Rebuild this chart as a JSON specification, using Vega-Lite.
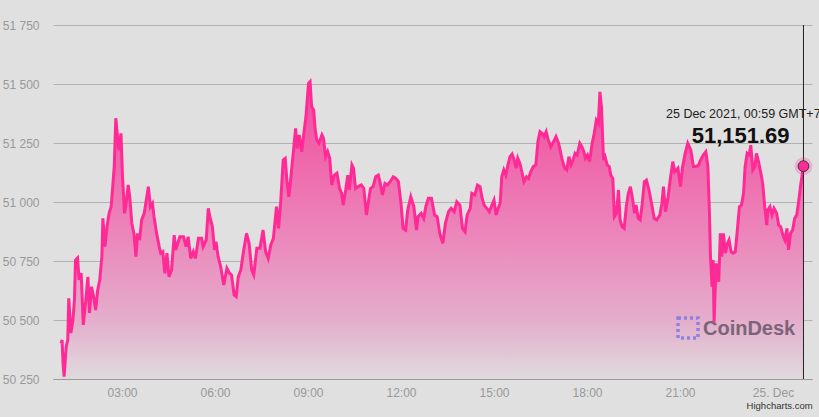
{
  "$schema": "https://vega.github.io/schema/vega-lite/v6.json",
  "autosize": {"type": "none"},
  "width": 759,
  "height": 354,
  "padding": {"left": 53, "top": 25, "right": 7, "bottom": 38},
  "background": "#e0e0e0",
  "title": {"text": "Highcharts.com", "orient": "bottom", "anchor": "end", "fontSize": 9.5, "fontWeight": "normal", "color": "#333333", "font": "Liberation Sans", "offset": 3, "dx": -8},
  "config": {"view": {"stroke": null}, "font": "Liberation Sans"},
  "data": {"values": [
    {"time":"2021-12-24T01:02","price":50401},{"time":"2021-12-24T01:04","price":50415},{"time":"2021-12-24T01:06","price":50316},{"time":"2021-12-24T01:08","price":50260},
    {"time":"2021-12-24T01:12","price":50387},{"time":"2021-12-24T01:15","price":50415},{"time":"2021-12-24T01:17","price":50592},{"time":"2021-12-24T01:21","price":50445},
    {"time":"2021-12-24T01:25","price":50500},{"time":"2021-12-24T01:28","price":50585},{"time":"2021-12-24T01:30","price":50754},{"time":"2021-12-24T01:34","price":50763},
    {"time":"2021-12-24T01:37","price":50670},{"time":"2021-12-24T01:41","price":50699},{"time":"2021-12-24T01:45","price":50479},{"time":"2021-12-24T01:50","price":50585},
    {"time":"2021-12-24T01:54","price":50683},{"time":"2021-12-24T01:57","price":50530},{"time":"2021-12-24T02:01","price":50641},{"time":"2021-12-24T02:05","price":50599},
    {"time":"2021-12-24T02:09","price":50542},{"time":"2021-12-24T02:13","price":50627},{"time":"2021-12-24T02:17","price":50670},{"time":"2021-12-24T02:21","price":50768},
    {"time":"2021-12-24T02:23","price":50931},{"time":"2021-12-24T02:27","price":50811},{"time":"2021-12-24T02:31","price":50895},{"time":"2021-12-24T02:35","price":50952},
    {"time":"2021-12-24T02:39","price":50980},{"time":"2021-12-24T02:41","price":51037},{"time":"2021-12-24T02:45","price":51150},{"time":"2021-12-24T02:48","price":51355},
    {"time":"2021-12-24T02:52","price":51263},{"time":"2021-12-24T02:54","price":51220},{"time":"2021-12-24T02:58","price":51291},{"time":"2021-12-24T03:01","price":51107},
    {"time":"2021-12-24T03:05","price":50952},{"time":"2021-12-24T03:08","price":50994},{"time":"2021-12-24T03:12","price":51072},{"time":"2021-12-24T03:15","price":51022},
    {"time":"2021-12-24T03:19","price":50910},{"time":"2021-12-24T03:23","price":50867},{"time":"2021-12-24T03:27","price":50768},{"time":"2021-12-24T03:30","price":50867},
    {"time":"2021-12-24T03:34","price":50839},{"time":"2021-12-24T03:38","price":50924},{"time":"2021-12-24T03:43","price":50952},{"time":"2021-12-24T03:47","price":51008},
    {"time":"2021-12-24T03:51","price":51065},{"time":"2021-12-24T03:55","price":50980},{"time":"2021-12-24T03:59","price":50994},{"time":"2021-12-24T04:02","price":50938},
    {"time":"2021-12-24T04:07","price":50867},{"time":"2021-12-24T04:12","price":50811},{"time":"2021-12-24T04:15","price":50783},{"time":"2021-12-24T04:19","price":50789},
    {"time":"2021-12-24T04:23","price":50698},{"time":"2021-12-24T04:27","price":50783},{"time":"2021-12-24T04:31","price":50683},{"time":"2021-12-24T04:36","price":50712},
    {"time":"2021-12-24T04:41","price":50860},{"time":"2021-12-24T04:44","price":50797},{"time":"2021-12-24T04:48","price":50825},{"time":"2021-12-24T04:52","price":50853},
    {"time":"2021-12-24T04:59","price":50853},{"time":"2021-12-24T05:04","price":50811},{"time":"2021-12-24T05:08","price":50853},{"time":"2021-12-24T05:13","price":50761},
    {"time":"2021-12-24T05:18","price":50789},{"time":"2021-12-24T05:22","price":50761},{"time":"2021-12-24T05:28","price":50846},{"time":"2021-12-24T05:34","price":50846},
    {"time":"2021-12-24T05:37","price":50811},{"time":"2021-12-24T05:43","price":50839},{"time":"2021-12-24T05:47","price":50973},{"time":"2021-12-24T05:50","price":50938},
    {"time":"2021-12-24T05:55","price":50895},{"time":"2021-12-24T05:59","price":50797},{"time":"2021-12-24T06:02","price":50832},{"time":"2021-12-24T06:06","price":50768},
    {"time":"2021-12-24T06:11","price":50726},{"time":"2021-12-24T06:17","price":50648},{"time":"2021-12-24T06:23","price":50719},{"time":"2021-12-24T06:28","price":50698},
    {"time":"2021-12-24T06:32","price":50691},{"time":"2021-12-24T06:37","price":50606},{"time":"2021-12-24T06:41","price":50599},{"time":"2021-12-24T06:45","price":50683},
    {"time":"2021-12-24T06:50","price":50712},{"time":"2021-12-24T06:55","price":50789},{"time":"2021-12-24T07:01","price":50867},{"time":"2021-12-24T07:06","price":50825},
    {"time":"2021-12-24T07:11","price":50712},{"time":"2021-12-24T07:15","price":50691},{"time":"2021-12-24T07:21","price":50804},{"time":"2021-12-24T07:27","price":50804},
    {"time":"2021-12-24T07:33","price":50881},{"time":"2021-12-24T07:38","price":50789},{"time":"2021-12-24T07:43","price":50761},{"time":"2021-12-24T07:48","price":50818},
    {"time":"2021-12-24T07:53","price":50846},{"time":"2021-12-24T07:59","price":50980},{"time":"2021-12-24T08:03","price":50888},{"time":"2021-12-24T08:07","price":50994},
    {"time":"2021-12-24T08:12","price":51178},{"time":"2021-12-24T08:16","price":51185},{"time":"2021-12-24T08:19","price":51093},{"time":"2021-12-24T08:23","price":51022},
    {"time":"2021-12-24T08:27","price":51107},{"time":"2021-12-24T08:32","price":51220},{"time":"2021-12-24T08:36","price":51312},{"time":"2021-12-24T08:39","price":51228},
    {"time":"2021-12-24T08:43","price":51284},{"time":"2021-12-24T08:48","price":51213},{"time":"2021-12-24T08:52","price":51291},{"time":"2021-12-24T08:56","price":51361},
    {"time":"2021-12-24T09:01","price":51503},{"time":"2021-12-24T09:04","price":51510},{"time":"2021-12-24T09:07","price":51404},{"time":"2021-12-24T09:11","price":51390},
    {"time":"2021-12-24T09:14","price":51305},{"time":"2021-12-24T09:17","price":51263},{"time":"2021-12-24T09:21","price":51249},{"time":"2021-12-24T09:27","price":51284},
    {"time":"2021-12-24T09:30","price":51270},{"time":"2021-12-24T09:34","price":51192},{"time":"2021-12-24T09:38","price":51213},{"time":"2021-12-24T09:42","price":51185},
    {"time":"2021-12-24T09:46","price":51072},{"time":"2021-12-24T09:51","price":51114},{"time":"2021-12-24T09:56","price":51122},{"time":"2021-12-24T10:01","price":51058},
    {"time":"2021-12-24T10:05","price":51037},{"time":"2021-12-24T10:08","price":50987},{"time":"2021-12-24T10:13","price":51051},{"time":"2021-12-24T10:17","price":51114},
    {"time":"2021-12-24T10:20","price":51051},{"time":"2021-12-24T10:25","price":51157},{"time":"2021-12-24T10:28","price":51143},{"time":"2021-12-24T10:32","price":51058},
    {"time":"2021-12-24T10:37","price":51065},{"time":"2021-12-24T10:43","price":51072},{"time":"2021-12-24T10:48","price":51058},{"time":"2021-12-24T10:53","price":50945},
    {"time":"2021-12-24T10:57","price":51001},{"time":"2021-12-24T11:01","price":51058},{"time":"2021-12-24T11:06","price":51065},{"time":"2021-12-24T11:11","price":51107},
    {"time":"2021-12-24T11:16","price":51114},{"time":"2021-12-24T11:20","price":51079},{"time":"2021-12-24T11:24","price":51030},{"time":"2021-12-24T11:29","price":51079},
    {"time":"2021-12-24T11:34","price":51072},{"time":"2021-12-24T11:39","price":51086},{"time":"2021-12-24T11:45","price":51107},{"time":"2021-12-24T11:50","price":51100},
    {"time":"2021-12-24T11:55","price":51086},{"time":"2021-12-24T12:00","price":50994},{"time":"2021-12-24T12:04","price":50888},{"time":"2021-12-24T12:09","price":50881},
    {"time":"2021-12-24T12:13","price":50966},{"time":"2021-12-24T12:19","price":51022},{"time":"2021-12-24T12:25","price":50980},{"time":"2021-12-24T12:30","price":50881},
    {"time":"2021-12-24T12:33","price":50938},{"time":"2021-12-24T12:39","price":50952},{"time":"2021-12-24T12:44","price":50931},{"time":"2021-12-24T12:48","price":50980},
    {"time":"2021-12-24T12:53","price":51016},{"time":"2021-12-24T12:59","price":51016},{"time":"2021-12-24T13:05","price":50945},{"time":"2021-12-24T13:10","price":50938},
    {"time":"2021-12-24T13:15","price":50867},{"time":"2021-12-24T13:21","price":50825},{"time":"2021-12-24T13:26","price":50910},{"time":"2021-12-24T13:32","price":50959},
    {"time":"2021-12-24T13:37","price":50973},{"time":"2021-12-24T13:43","price":50959},{"time":"2021-12-24T13:48","price":51001},{"time":"2021-12-24T13:54","price":50987},
    {"time":"2021-12-24T13:59","price":50888},{"time":"2021-12-24T14:04","price":50874},{"time":"2021-12-24T14:08","price":50945},{"time":"2021-12-24T14:14","price":50973},
    {"time":"2021-12-24T14:17","price":51037},{"time":"2021-12-24T14:23","price":51030},{"time":"2021-12-24T14:28","price":51072},{"time":"2021-12-24T14:33","price":51065},
    {"time":"2021-12-24T14:37","price":51016},{"time":"2021-12-24T14:41","price":50987},{"time":"2021-12-24T14:46","price":50973},{"time":"2021-12-24T14:51","price":50959},
    {"time":"2021-12-24T14:56","price":50987},{"time":"2021-12-24T15:00","price":51008},{"time":"2021-12-24T15:04","price":50945},{"time":"2021-12-24T15:08","price":50973},
    {"time":"2021-12-24T15:12","price":50994},{"time":"2021-12-24T15:15","price":51107},{"time":"2021-12-24T15:19","price":51136},{"time":"2021-12-24T15:23","price":51114},
    {"time":"2021-12-24T15:27","price":51157},{"time":"2021-12-24T15:31","price":51192},{"time":"2021-12-24T15:35","price":51203},{"time":"2021-12-24T15:39","price":51178},
    {"time":"2021-12-24T15:43","price":51143},{"time":"2021-12-24T15:46","price":51185},{"time":"2021-12-24T15:50","price":51164},{"time":"2021-12-24T15:54","price":51128},
    {"time":"2021-12-24T15:58","price":51086},{"time":"2021-12-24T16:03","price":51107},{"time":"2021-12-24T16:07","price":51100},{"time":"2021-12-24T16:11","price":51128},
    {"time":"2021-12-24T16:16","price":51150},{"time":"2021-12-24T16:21","price":51157},{"time":"2021-12-24T16:25","price":51255},{"time":"2021-12-24T16:29","price":51298},
    {"time":"2021-12-24T16:33","price":51291},{"time":"2021-12-24T16:37","price":51277},{"time":"2021-12-24T16:41","price":51298},{"time":"2021-12-24T16:45","price":51263},
    {"time":"2021-12-24T16:50","price":51234},{"time":"2021-12-24T16:55","price":51255},{"time":"2021-12-24T17:00","price":51277},{"time":"2021-12-24T17:05","price":51249},
    {"time":"2021-12-24T17:08","price":51220},{"time":"2021-12-24T17:12","price":51178},{"time":"2021-12-24T17:17","price":51143},{"time":"2021-12-24T17:21","price":51136},
    {"time":"2021-12-24T17:25","price":51192},{"time":"2021-12-24T17:29","price":51157},{"time":"2021-12-24T17:33","price":51178},{"time":"2021-12-24T17:37","price":51206},
    {"time":"2021-12-24T17:41","price":51199},{"time":"2021-12-24T17:46","price":51249},{"time":"2021-12-24T17:50","price":51234},{"time":"2021-12-24T17:54","price":51213},
    {"time":"2021-12-24T17:57","price":51185},{"time":"2021-12-24T18:01","price":51199},{"time":"2021-12-24T18:05","price":51171},{"time":"2021-12-24T18:10","price":51249},
    {"time":"2021-12-24T18:14","price":51291},{"time":"2021-12-24T18:18","price":51347},{"time":"2021-12-24T18:22","price":51333},{"time":"2021-12-24T18:25","price":51467},
    {"time":"2021-12-24T18:28","price":51404},{"time":"2021-12-24T18:32","price":51178},{"time":"2021-12-24T18:35","price":51192},{"time":"2021-12-24T18:39","price":51157},
    {"time":"2021-12-24T18:43","price":51150},{"time":"2021-12-24T18:46","price":51114},{"time":"2021-12-24T18:50","price":51100},{"time":"2021-12-24T18:53","price":50938},
    {"time":"2021-12-24T18:57","price":50952},{"time":"2021-12-24T19:01","price":51051},{"time":"2021-12-24T19:04","price":50924},{"time":"2021-12-24T19:08","price":50895},
    {"time":"2021-12-24T19:12","price":50888},{"time":"2021-12-24T19:16","price":50980},{"time":"2021-12-24T19:20","price":51037},{"time":"2021-12-24T19:24","price":51065},
    {"time":"2021-12-24T19:28","price":51016},{"time":"2021-12-24T19:32","price":50952},{"time":"2021-12-24T19:35","price":50987},{"time":"2021-12-24T19:39","price":50931},
    {"time":"2021-12-24T19:43","price":50924},{"time":"2021-12-24T19:47","price":50994},{"time":"2021-12-24T19:51","price":51086},{"time":"2021-12-24T19:55","price":51093},
    {"time":"2021-12-24T20:00","price":51051},{"time":"2021-12-24T20:05","price":50994},{"time":"2021-12-24T20:10","price":50931},{"time":"2021-12-24T20:15","price":50924},
    {"time":"2021-12-24T20:21","price":50945},{"time":"2021-12-24T20:25","price":50994},{"time":"2021-12-24T20:28","price":51065},{"time":"2021-12-24T20:32","price":50959},
    {"time":"2021-12-24T20:37","price":51022},{"time":"2021-12-24T20:41","price":51093},{"time":"2021-12-24T20:46","price":51171},{"time":"2021-12-24T20:50","price":51128},
    {"time":"2021-12-24T20:56","price":51143},{"time":"2021-12-24T21:01","price":51065},{"time":"2021-12-24T21:05","price":51150},{"time":"2021-12-24T21:10","price":51206},
    {"time":"2021-12-24T21:15","price":51249},{"time":"2021-12-24T21:21","price":51220},{"time":"2021-12-24T21:26","price":51150},{"time":"2021-12-24T21:31","price":51150},
    {"time":"2021-12-24T21:36","price":51157},{"time":"2021-12-24T21:40","price":51178},{"time":"2021-12-24T21:45","price":51199},{"time":"2021-12-24T21:50","price":51213},
    {"time":"2021-12-24T21:54","price":51150},{"time":"2021-12-24T21:57","price":50952},{"time":"2021-12-24T21:59","price":50768},{"time":"2021-12-24T22:02","price":50641},
    {"time":"2021-12-24T22:04","price":50754},{"time":"2021-12-24T22:06","price":50493},{"time":"2021-12-24T22:10","price":50740},{"time":"2021-12-24T22:12","price":50698},
    {"time":"2021-12-24T22:15","price":50662},{"time":"2021-12-24T22:18","price":50867},{"time":"2021-12-24T22:21","price":50768},{"time":"2021-12-24T22:24","price":50867},
    {"time":"2021-12-24T22:28","price":50783},{"time":"2021-12-24T22:32","price":50825},{"time":"2021-12-24T22:35","price":50839},{"time":"2021-12-24T22:39","price":50789},
    {"time":"2021-12-24T22:43","price":50783},{"time":"2021-12-24T22:47","price":50789},{"time":"2021-12-24T22:51","price":50881},{"time":"2021-12-24T22:55","price":50980},
    {"time":"2021-12-24T22:59","price":50987},{"time":"2021-12-24T23:03","price":51037},{"time":"2021-12-24T23:06","price":51150},{"time":"2021-12-24T23:10","price":51206},
    {"time":"2021-12-24T23:14","price":51199},{"time":"2021-12-24T23:17","price":51241},{"time":"2021-12-24T23:21","price":51136},{"time":"2021-12-24T23:25","price":51150},
    {"time":"2021-12-24T23:28","price":51206},{"time":"2021-12-24T23:32","price":51171},{"time":"2021-12-24T23:36","price":51128},{"time":"2021-12-24T23:40","price":51079},
    {"time":"2021-12-24T23:44","price":50980},{"time":"2021-12-24T23:48","price":50902},{"time":"2021-12-24T23:50","price":50966},{"time":"2021-12-24T23:54","price":50980},
    {"time":"2021-12-24T23:58","price":50945},{"time":"2021-12-25T00:02","price":50973},{"time":"2021-12-25T00:07","price":50952},{"time":"2021-12-25T00:11","price":50902},
    {"time":"2021-12-25T00:15","price":50895},{"time":"2021-12-25T00:19","price":50860},{"time":"2021-12-25T00:23","price":50839},{"time":"2021-12-25T00:27","price":50888},
    {"time":"2021-12-25T00:30","price":50797},{"time":"2021-12-25T00:34","price":50867},{"time":"2021-12-25T00:38","price":50881},{"time":"2021-12-25T00:42","price":50931},
    {"time":"2021-12-25T00:46","price":50945},{"time":"2021-12-25T00:50","price":51008},{"time":"2021-12-25T00:54","price":51079},{"time":"2021-12-25T00:59","price":51151.69}
  ]},
  "layer": [
    {
      "mark": {
        "type": "area",
        "color": {
          "gradient": "linear", "x1": 0, "y1": 0, "x2": 0, "y2": 1,
          "stops": [
            {"offset": 0, "color": "#f2499c"},
            {"offset": 0.5, "color": "#ec84ba"},
            {"offset": 0.8, "color": "#e4adcb"},
            {"offset": 1, "color": "#dfdadd"}
          ]
        }
      },
      "encoding": {
        "x": {
          "field": "time", "type": "temporal", "title": null,
          "scale": {"domain": [
            {"year": 2021, "month": 12, "date": 24, "hours": 0, "minutes": 46, "seconds": 27},
            {"year": 2021, "month": 12, "date": 25, "hours": 1, "minutes": 15, "seconds": 30}
          ]},
          "axis": {
            "values": [
              {"year": 2021, "month": 12, "date": 24, "hours": 3},
              {"year": 2021, "month": 12, "date": 24, "hours": 6},
              {"year": 2021, "month": 12, "date": 24, "hours": 9},
              {"year": 2021, "month": 12, "date": 24, "hours": 12},
              {"year": 2021, "month": 12, "date": 24, "hours": 15},
              {"year": 2021, "month": 12, "date": 24, "hours": 18},
              {"year": 2021, "month": 12, "date": 24, "hours": 21},
              {"year": 2021, "month": 12, "date": 25, "hours": 0}
            ],
            "labelExpr": "hours(datum.value) == 0 ? timeFormat(datum.value, '%-d. %b') : timeFormat(datum.value, '%H:%M')",
            "grid": false, "ticks": false, "domainColor": "#9a9a9a",
            "labelColor": "#999999", "labelFontSize": 12, "labelPadding": 8, "zindex": 1
          }
        },
        "y": {
          "field": "price", "type": "quantitative", "title": null,
          "scale": {"domain": [50250, 51750], "zero": false, "nice": false},
          "axis": {
            "values": [50250, 50500, 50750, 51000, 51250, 51500, 51750],
            "format": ",.0f",
            "labelExpr": "replace(datum.label, ',', ' ')",
            "grid": true, "gridColor": "#b2b2b2",
            "domain": false, "ticks": false,
            "labelColor": "#999999", "labelFontSize": 12, "labelPadding": 14
          }
        },
        "y2": {"datum": 50250}
      }
    },
    {
      "data": {"values": [{}]},
      "mark": {"type": "point", "shape": "square", "filled": false, "size": 400, "stroke": "#7d7ae6", "strokeWidth": 3.5, "strokeDash": [3, 3], "opacity": 0.85},
      "encoding": {
        "x": {"datum": {"year": 2021, "month": 12, "date": 24, "hours": 21, "minutes": 15, "seconds": 30}, "type": "temporal"},
        "y": {"datum": 50466, "type": "quantitative"}
      }
    },
    {
      "data": {"values": [{}]},
      "mark": {"type": "text", "text": "CoinDesk", "align": "left", "baseline": "middle", "fontSize": 20, "fontWeight": "bold", "color": "#7b6479", "font": "Liberation Sans"},
      "encoding": {
        "x": {"datum": {"year": 2021, "month": 12, "date": 24, "hours": 21, "minutes": 44, "seconds": 30}, "type": "temporal"},
        "y": {"datum": 50460, "type": "quantitative"}
      }
    },
    {
      "mark": {"type": "line", "color": "#ff2a95", "strokeWidth": 3},
      "encoding": {
        "x": {"field": "time", "type": "temporal"},
        "y": {"field": "price", "type": "quantitative"}
      }
    },
    {
      "data": {"values": [{}]},
      "mark": {"type": "rule", "color": "#222222", "strokeWidth": 1},
      "encoding": {
        "x": {"datum": {"year": 2021, "month": 12, "date": 25, "hours": 0, "minutes": 59}, "type": "temporal"}
      }
    },
    {
      "transform": [{"filter": "datum.price == 51151.69"}],
      "mark": {"type": "point", "filled": true, "size": 320, "color": "#ff2a95", "opacity": 0.25},
      "encoding": {
        "x": {"field": "time", "type": "temporal"},
        "y": {"field": "price", "type": "quantitative"}
      }
    },
    {
      "transform": [{"filter": "datum.price == 51151.69"}],
      "mark": {"type": "point", "filled": true, "size": 115, "fill": "#ff2a95", "stroke": "#333333", "strokeWidth": 1, "opacity": 1},
      "encoding": {
        "x": {"field": "time", "type": "temporal"},
        "y": {"field": "price", "type": "quantitative"}
      }
    },
    {
      "data": {"values": [{}]},
      "mark": {"type": "text", "text": "25 Dec 2021, 00:59 GMT+7", "align": "left", "baseline": "middle", "fontSize": 12.5, "color": "#222222", "font": "Liberation Sans"},
      "encoding": {
        "x": {"datum": {"year": 2021, "month": 12, "date": 24, "hours": 20, "minutes": 32, "seconds": 55}, "type": "temporal"},
        "y": {"datum": 51373, "type": "quantitative"}
      }
    },
    {
      "data": {"values": [{}]},
      "mark": {"type": "text", "text": "51,151.69", "align": "left", "baseline": "middle", "fontSize": 22, "fontWeight": "bold", "color": "#111111", "font": "Liberation Sans"},
      "encoding": {
        "x": {"datum": {"year": 2021, "month": 12, "date": 24, "hours": 21, "minutes": 22, "seconds": 40}, "type": "temporal"},
        "y": {"datum": 51280, "type": "quantitative"}
      }
    }
  ]
}
